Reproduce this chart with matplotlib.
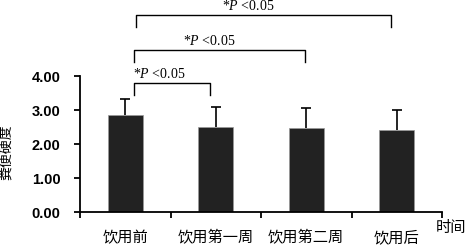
import matplotlib
matplotlib.use('Agg')
import matplotlib.pyplot as plt

# 数据
categories = ['饮用前', '饮用第一周', '饮用第二周', '饮用后']
means = [2.84, 2.49, 2.46, 2.42]
sds = [0.48, 0.59, 0.60, 0.58]
y_ticks = [0.0, 1.0, 2.0, 3.0, 4.0]
# 显著性标注 (第一组, 第二组)
sig_pairs = [(0, 1), (0, 2), (0, 3)]
sig_text = r'*$\mathit{P}$ <0.05'

cjk = ['Noto Sans CJK SC', 'DejaVu Sans']
plt.rcParams['mathtext.fontset'] = 'custom'
plt.rcParams['mathtext.rm'] = 'Liberation Serif'
plt.rcParams['mathtext.it'] = 'Liberation Serif:italic'

fig = plt.figure(figsize=(4.65, 2.46), dpi=100)
ax = fig.add_axes([80 / 465, 34 / 246, 362 / 465, 136 / 246])

x = list(range(len(categories)))
ax.bar(x, means, width=0.39, color='#222222', edgecolor='#999999', linewidth=0.5, zorder=2)
# 只画向上的误差线
tops = [m + s for m, s in zip(means, sds)]
ax.vlines(x, means, tops, color='black', linewidth=1.2, zorder=3)
ax.hlines(tops, [i - 0.055 for i in x], [i + 0.055 for i in x], color='black',
          linewidth=1.2, zorder=3)

ax.set_xlim(-0.5, 3.5)
ax.set_ylim(0, 4)
ax.set_yticks(y_ticks)
ax.set_yticklabels(['%.2f' % v for v in y_ticks], fontweight='bold',
                   family='Liberation Sans', fontsize=10.5)
ax.set_xticks([-0.5, 0.5, 1.5, 2.5, 3.5])
ax.set_xticklabels([])
for i, c in enumerate(categories):
    ax.text(i, -0.52, c, ha='center', va='top', family=cjk, fontsize=11)
ax.text(3.43, -0.22, '时间', ha='left', va='top', family=cjk, fontsize=11)
ax.set_ylabel('粪便硬度', family=cjk, fontsize=10)
ax.yaxis.set_label_coords(-0.185, 0.44)

for s in ['top', 'right']:
    ax.spines[s].set_visible(False)
for s in ['left', 'bottom']:
    ax.spines[s].set_linewidth(1.3)
ax.tick_params(axis='both', direction='out', length=4, width=1.3)
ax.tick_params(axis='y', pad=10)

# 显著性括号
levels = [3.79, 4.76, 5.79]
x_lefts = [0.1, 0.1, 0.12]
x_rights = [0.94, 1.99, 2.94]
text_x = [0.09, 0.64, 1.07]
leg = 0.34
for k, (a, b) in enumerate(sig_pairs):
    h = levels[k]
    xl, xr = x_lefts[k], x_rights[k]
    ax.plot([xl, xl, xr, xr], [h - leg, h, h, h - leg],
            color='black', linewidth=1.0, clip_on=False)
    ax.text(text_x[k], h + 0.15, sig_text, ha='left', va='baseline',
            family='Liberation Serif', fontsize=10, clip_on=False)

plt.savefig('out.png', dpi=100)
